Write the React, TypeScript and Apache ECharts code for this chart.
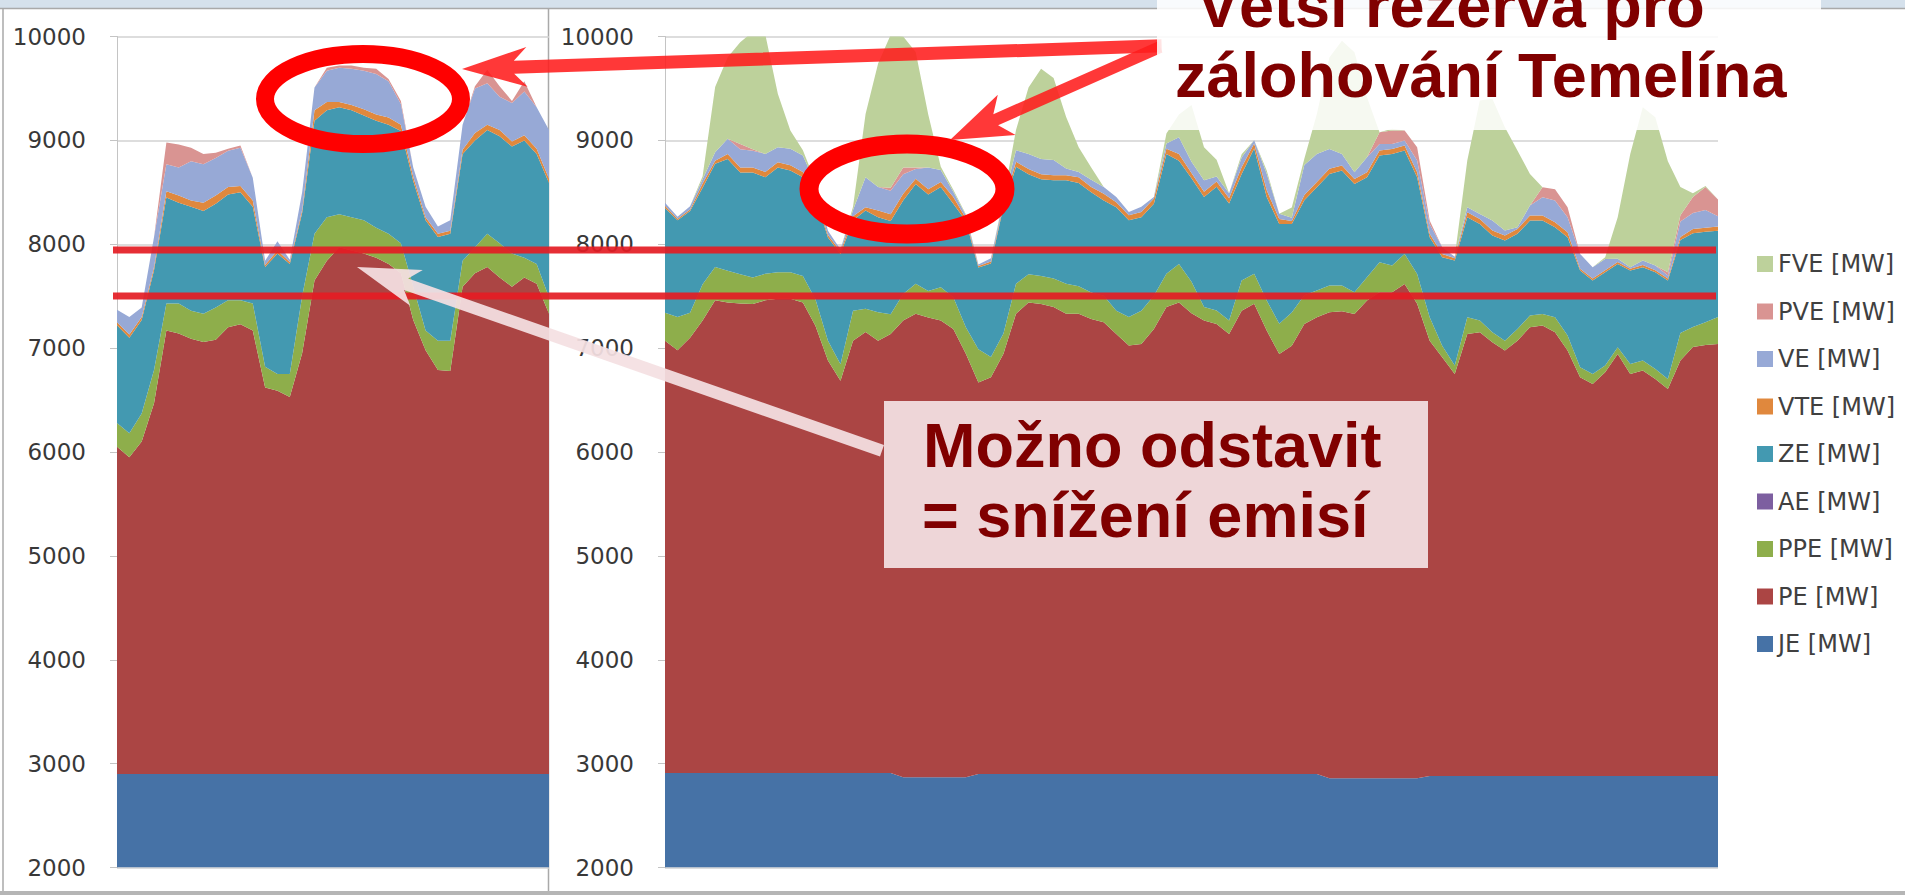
import React, { useEffect, useRef } from "react";
import * as echarts from "echarts";

// ---------- names, colours, ticks ----------
const STACK_ORDER = ["JE [MW]", "PE [MW]", "PPE [MW]", "AE [MW]", "ZE [MW]", "VTE [MW]", "VE [MW]", "PVE [MW]", "FVE [MW]"];
const LEGEND_ORDER = ["FVE [MW]", "PVE [MW]", "VE [MW]", "VTE [MW]", "ZE [MW]", "AE [MW]", "PPE [MW]", "PE [MW]", "JE [MW]"];
const COLORS: Record<string, string> = {
  "JE [MW]": "#4672A6",
  "PE [MW]": "#AB4544",
  "PPE [MW]": "#8EAE4B",
  "AE [MW]": "#7D5FA0",
  "ZE [MW]": "#4399B1",
  "VTE [MW]": "#E0883D",
  "VE [MW]": "#97A9D6",
  "PVE [MW]": "#D99492",
  "FVE [MW]": "#BDD19B",
};
const Y_MIN = 2000;
const Y_MAX = 10000;
const Y_STEP = 1000;

// ---------- left chart (2-hour steps, ~3 days) ----------
const LEFT_STEPS = Array.from({ length: 36 }, (_, i) => `${i * 2} h`);
const JE_L = [2900, 2900, 2900, 2900, 2900, 2900, 2900, 2900, 2900, 2900, 2900, 2900, 2900, 2900, 2900, 2900, 2900, 2900, 2900, 2900, 2900, 2900, 2900, 2900, 2900, 2900, 2900, 2900, 2900, 2900, 2900, 2900, 2900, 2900, 2900, 2900];
const PE_L = [3150, 3050, 3200, 3570, 4270, 4240, 4190, 4160, 4180, 4300, 4330, 4270, 3720, 3690, 3630, 4050, 4750, 4940, 5070, 5040, 5010, 4970, 4910, 4820, 4370, 4080, 3890, 3880, 4690, 4820, 4880, 4780, 4690, 4780, 4720, 4430];
const PPE_L = [230, 230, 270, 320, 260, 290, 270, 270, 310, 260, 230, 260, 200, 160, 220, 550, 450, 420, 320, 320, 320, 290, 290, 290, 320, 190, 280, 290, 250, 250, 320, 330, 320, 190, 190, 160];
const AE_L = [0, 0, 0, 0, 0, 0, 0, 0, 0, 0, 0, 0, 0, 0, 0, 0, 0, 0, 0, 0, 0, 0, 0, 0, 0, 0, 0, 0, 0, 0, 0, 0, 0, 0, 0, 0];
const ZE_L = [940, 920, 900, 960, 1020, 970, 1000, 990, 1000, 1020, 1040, 930, 960, 1160, 1060, 800, 1090, 1030, 1030, 1030, 1010, 1030, 1050, 1080, 1020, 1060, 1000, 1030, 1030, 1030, 1000, 1030, 1030, 1130, 1060, 1100];
const VTE_L = [30, 30, 30, 30, 60, 70, 60, 80, 80, 70, 60, 60, 20, 30, 20, 30, 100, 80, 50, 50, 60, 60, 70, 60, 40, 30, 30, 30, 40, 70, 50, 60, 50, 50, 50, 40];
const VE_L = [120, 170, 90, 290, 260, 270, 380, 370, 360, 350, 370, 220, 40, 90, 20, 170, 220, 300, 330, 350, 370, 390, 350, 200, 90, 100, 70, 100, 240, 430, 400, 320, 370, 420, 400, 470];
const PVE_L = [0, 0, 0, 0, 210, 220, 130, 100, 50, 20, 20, 0, 0, 0, 0, 0, 0, 30, 20, 30, 30, 50, 20, 30, 0, 0, 0, 0, 0, 20, 130, 100, 20, 100, 0, 0];
const FVE_L = [0, 0, 0, 0, 0, 0, 0, 0, 0, 0, 0, 0, 0, 0, 0, 0, 0, 0, 0, 0, 0, 0, 0, 0, 0, 0, 0, 0, 0, 0, 0, 0, 0, 0, 0, 0];

// ---------- right chart (2-hour steps, one week) ----------
const RIGHT_STEPS = Array.from({ length: 85 }, (_, i) => `${i * 2} h`);
const JE_R = [
  2910, 2910, 2910, 2910, 2910, 2910, 2910, 2910, 2910, 2910, 2910, 2910, 2910, 2910, 2910, 2910, 2910, 2910, 2910,
  2870, 2870, 2870, 2870, 2870, 2870,
  2900, 2900, 2900, 2900, 2900, 2900, 2900, 2900, 2900, 2900, 2900, 2900, 2900, 2900, 2900, 2900, 2900, 2900, 2900, 2900, 2900, 2900, 2900, 2900, 2900, 2900, 2900, 2900,
  2860, 2860, 2860, 2860, 2860, 2860, 2860, 2860,
  2880, 2880, 2880, 2880, 2880, 2880, 2880, 2880, 2880, 2880, 2880, 2880, 2880, 2880, 2880, 2880, 2880, 2880, 2880, 2880, 2880, 2880, 2880, 2880,
];
const PE_R = [
  4160, 4070, 4190, 4355, 4550, 4530, 4520, 4515, 4550, 4565,
  4565, 4530, 4305, 3970, 3775, 4160, 4245, 4160, 4225, 4395,
  4460, 4425, 4395, 4315, 4075, 3770, 3820, 4045, 4430, 4540,
  4525, 4495, 4430, 4430, 4380, 4350, 4235, 4125, 4140, 4285,
  4495, 4540, 4435, 4365, 4333, 4237, 4461, 4526, 4269, 4044,
  4124, 4333, 4397, 4485, 4495, 4469, 4598, 4678, 4678, 4758,
  4566, 4192, 4032, 3871, 4257, 4273, 4176, 4096, 4192, 4321,
  4337, 4273, 4096, 3839, 3775, 3887, 4064, 3871, 3904, 3823,
  3727, 4000, 4130, 4150, 4160,
];
const PPE_R = [
  270, 320, 240, 350, 320, 305, 280, 255, 255, 255,
  255, 255, 255, 190, 160, 290, 225, 275, 190, 255,
  290, 255, 320, 305, 255, 320, 195, 195, 290, 270,
  270, 275, 290, 265, 255, 255, 225, 275, 320, 320,
  320, 370, 305, 130, 130, 130, 290, 290, 290, 290,
  320, 275, 257, 257, 247, 209, 224, 289, 257, 289,
  288, 225, 112, 81, 160, 112, 97, 96, 113, 112,
  112, 144, 145, 97, 96, 65, 64, 97, 96, 97,
  96, 265, 193, 220, 260,
];
const AE_R = [
  0, 0, 0, 0, 0, 0, 0, 0, 0, 0, 0, 0, 0, 0, 0, 0, 0, 0, 0, 0, 0, 0, 0, 0, 0, 0, 0, 0, 0, 0, 0, 0, 0, 0, 0, 0, 0, 0, 0, 0, 0, 0, 0,
  0, 0, 0, 0, 0, 0, 0, 0, 0, 0, 0, 0, 0, 0, 0, 0, 0, 0, 0, 0, 0, 0, 0, 0, 0, 0, 0, 0, 0, 0, 0, 0, 0, 0, 0, 0, 0, 0, 0, 0, 0, 0,
];
const ZE_R = [
  1010, 930, 980, 930, 995, 1075, 980, 1010, 930, 1010,
  980, 950, 980, 995, 1060, 870, 945, 915, 900, 900,
  960, 930, 965, 900, 1025, 785, 900, 1220, 1125, 965,
  930, 945, 995, 995, 965, 915, 995, 930, 900, 885,
  1155, 995, 995, 1060, 1190, 1125, 1025, 1205, 995, 960,
  850, 915, 995, 1075, 1108, 1043, 963, 1027, 1075, 995,
  931, 771, 851, 1011, 963, 931, 931, 963, 915, 915,
  899, 867, 947, 931, 899, 898, 803, 899, 899, 930,
  947, 895, 903, 870, 830,
];
const VTE_R = [
  20, 15, 15, 40, 30, 50, 50, 50, 50, 50,
  50, 50, 30, 25, 25, 40, 30, 65, 65, 65,
  50, 50, 50, 65, 25, 15, 20, 25, 50, 50,
  50, 50, 50, 55, 50, 65, 50, 50, 50, 50,
  50, 65, 50, 50, 50, 50, 65, 50, 65, 50,
  30, 50, 50, 50, 48, 48, 48, 48, 48, 48,
  48, 32, 32, 22, 48, 48, 48, 49, 48, 48,
  48, 48, 48, 18, 20, 20, 19, 18, 21, 20,
  20, 30, 40, 40, 40,
];
const VE_R = [
  30, 20, 30, 40, 80, 145, 175, 160, 175, 145,
  160, 160, 100, 40, 20, 60, 290, 225, 225, 190,
  95, 210, 115, 50, 30, 15, 30, 40, 110, 145,
  145, 145, 65, 50, 70, 65, 50, 30, 50, 15,
  50, 160, 110, 110, 50, 50, 95, 30, 160, 50,
  30, 290, 270, 190, 112, 64, 145, 64, 48, 48,
  113, 96, 64, 15, 48, 48, 96, 48, 16, 96,
  177, 209, 144, 142, 109, 109, 30, 14, 43, 45,
  30, 150, 154, 170, 100,
];
const PVE_R = [
  0, 0, 0, 0, 0, 0, 50, 15, 0, 0,
  0, 0, 0, 0, 0, 0, 0, 0, 30, 65,
  15, 0, 0, 0, 0, 0, 0, 0, 0, 0,
  0, 0, 0, 0, 0, 0, 0, 0, 0, 0,
  0, 0, 0, 0, 0, 0, 0, 0, 0, 0,
  0, 0, 0, 0, 0, 0, 0, 113, 129, 97,
  128, 32, 0, 0, 0, 0, 0, 0, 0, 0,
  96, 109, 96, 0, 0, 0, 0, 0, 0, 0,
  30, 60, 155, 220, 160,
];
const FVE_R = [
  0, 0, 0, 30, 630, 785, 980, 1130, 1150, 515,
  175, 50, 20, 0, 0, 30, 610, 1190, 1470, 1260,
  1110, 510, 30, 20, 10, 0, 0, 20, 195, 640,
  870, 790, 495, 240, 120, 0, 0, 0, 0, 0,
  95, 220, 545, 320, 160, 0, 30, 0, 30, 0,
  100, 60, 385, 880, 1090, 1156, 578, 0, 16, 0,
  0, 0, 0, 0, 450, 1092, 1172, 995, 738, 305,
  0, 0, 0, 0, 0, 16, 400, 1091, 1477, 1428,
  1070, 270, 35, 10, 0,
];

const LEFT_DATA = [JE_L, PE_L, PPE_L, AE_L, ZE_L, VTE_L, VE_L, PVE_L, FVE_L];
const RIGHT_DATA = [JE_R, PE_R, PPE_R, AE_R, ZE_R, VTE_R, VE_R, PVE_R, FVE_R];

const TITLE_LINES = ["Větší rezerva pro", "zálohování Temelína"];
const NOTE_LINES = ["Možno odstavit", "= snížení emisí"];

function buildOption(): any {
  const mkSeries = (name: string, data: number[], idx: number, stack: string) => ({
    name,
    type: "line",
    data,
    xAxisIndex: idx,
    yAxisIndex: idx,
    stack,
    symbol: "none",
    showSymbol: false,
    smooth: false,
    clip: true,
    silent: true,
    lineStyle: { width: 0, color: COLORS[name] },
    itemStyle: { color: COLORS[name] },
    areaStyle: { color: COLORS[name], opacity: 1 },
    emphasis: { disabled: true },
    z: 2,
  });

  const series: any[] = [];
  STACK_ORDER.forEach((n, k) => series.push(mkSeries(n, LEFT_DATA[k], 0, "left")));
  STACK_ORDER.forEach((n, k) => series.push(mkSeries(n, RIGHT_DATA[k], 1, "right")));

  const yAxis = (gridIndex: number) => ({
    type: "value",
    gridIndex,
    min: Y_MIN,
    max: Y_MAX,
    interval: Y_STEP,
    axisLine: { show: true, lineStyle: { color: "#C4C4C4", width: 1 } },
    axisTick: { show: true, length: 7, lineStyle: { color: "#C4C4C4" } },
    splitLine: { show: true, lineStyle: { color: "#D2D2D2", width: 1.5 } },
    axisLabel: {
      color: "#383838",
      fontFamily: "DejaVu Sans",
      fontSize: 23,
      margin: 31,
      formatter: (v: number) => String(v),
    },
  });
  const xAxis = (gridIndex: number, data: string[]) => ({
    type: "category",
    gridIndex,
    data,
    boundaryGap: false,
    axisLine: { show: false },
    axisTick: { show: false },
    axisLabel: { show: false },
    splitLine: { show: false },
  });

  const red = "rgba(255,28,28,0.88)";
  const pinkArrow = "rgba(244,224,226,0.93)";
  const bigFont = 'bold 63px "Liberation Sans", Arial, sans-serif';

  const graphics: any[] = [
    // slide frame
    { type: "rect", z: 0, shape: { x: 0, y: 0, width: 1905, height: 8 }, style: { fill: "#D5E1EC" } },
    { type: "line", z: 0, shape: { x1: 0, y1: 8.5, x2: 1905, y2: 8.5 }, style: { stroke: "#A9A9A9", lineWidth: 1.5 } },
    { type: "line", z: 0, shape: { x1: 3, y1: 8, x2: 3, y2: 891 }, style: { stroke: "#A9A9A9", lineWidth: 1.5 } },
    { type: "line", z: 0, shape: { x1: 548.5, y1: 8, x2: 548.5, y2: 891 }, style: { stroke: "#A9A9A9", lineWidth: 1.5 } },
    { type: "rect", z: 0, shape: { x: 0, y: 891, width: 1905, height: 4 }, style: { fill: "#B5B5B5" } },

    // red horizontal lines
    { type: "rect", z: 100, shape: { x: 113, y: 246.5, width: 1603, height: 7 }, style: { fill: "rgba(228,28,36,0.92)" } },
    { type: "rect", z: 100, shape: { x: 113, y: 292.5, width: 1603, height: 7 }, style: { fill: "rgba(228,28,36,0.92)" } },

    // ellipses
    { type: "ellipse", z: 101, shape: { cx: 363, cy: 99, rx: 98, ry: 45 }, style: { fill: "none", stroke: "#FF0000", lineWidth: 18 } },
    { type: "ellipse", z: 101, shape: { cx: 907, cy: 189, rx: 98, ry: 45 }, style: { fill: "none", stroke: "#FF0000", lineWidth: 19 } },

    // red arrow to the left ellipse
    {
      type: "polygon", z: 102,
      shape: { points: [[462, 69], [526.3, 46.9], [513.8, 60.8], [1161.4, 39.3], [1161.8, 52.3], [514.2, 73.8], [527.6, 86.8]] },
      style: { fill: red },
    },
    // red arrow to the right ellipse
    {
      type: "polygon", z: 102,
      shape: { points: [[950, 140], [997.8, 94.8], [993.3, 114.3], [1157.6, 41.5], [1162.4, 52.5], [998.1, 125.3], [1015.6, 135]] },
      style: { fill: red },
    },
    // light arrow to the coal peak
    {
      type: "polygon", z: 102,
      shape: { points: [[357, 267], [422.8, 269.9], [408.1, 278.5], [884, 445], [880, 456.5], [404.1, 289.9], [410.2, 305.7]] },
      style: { fill: pinkArrow },
    },

    // title box
    { type: "rect", z: 110, shape: { x: 1157, y: 0, width: 664, height: 130 }, style: { fill: "rgba(255,255,255,0.86)" } },
    {
      type: "text", z: 111, x: 1197, y: 5,
      style: { text: TITLE_LINES[0], font: bigFont, fill: "#800000", textAlign: "left", textVerticalAlign: "middle" },
    },
    {
      type: "text", z: 111, x: 1175, y: 75,
      style: { text: TITLE_LINES[1], font: bigFont, fill: "#800000", textAlign: "left", textVerticalAlign: "middle" },
    },

    // note box
    { type: "rect", z: 110, shape: { x: 884, y: 401, width: 544, height: 167 }, style: { fill: "rgba(240,219,221,0.97)" } },
    {
      type: "text", z: 111, x: 923, y: 445,
      style: { text: NOTE_LINES[0], font: bigFont, fill: "#800000", textAlign: "left", textVerticalAlign: "middle" },
    },
    {
      type: "text", z: 111, x: 922, y: 515,
      style: { text: NOTE_LINES[1], font: bigFont, fill: "#800000", textAlign: "left", textVerticalAlign: "middle" },
    },
  ];

  return {
    animation: false,
    backgroundColor: "#FFFFFF",
    grid: [
      { left: 117, top: 36.5, width: 432, height: 831, containLabel: false },
      { left: 665, top: 36.5, width: 1053, height: 831, containLabel: false },
    ],
    xAxis: [xAxis(0, LEFT_STEPS), xAxis(1, RIGHT_STEPS)],
    yAxis: [yAxis(0), yAxis(1)],
    legend: {
      orient: "vertical",
      left: 1752,
      top: 246,
      itemWidth: 16,
      itemHeight: 16,
      itemGap: 21.5,
      icon: "rect",
      selectedMode: false,
      data: LEGEND_ORDER,
      textStyle: { fontFamily: "DejaVu Sans", fontSize: 24, lineHeight: 26, color: "#404040" },
    },
    tooltip: { show: false },
    series,
    graphic: { elements: graphics },
  };
}

export default function App() {
  const ref = useRef<HTMLDivElement | null>(null);
  useEffect(() => {
    document.body.style.margin = "0";
    document.body.style.overflow = "hidden";
    if (!ref.current) return;
    const chart = echarts.init(ref.current, undefined, { renderer: "svg" });
    chart.setOption(buildOption());
    return () => chart.dispose();
  }, []);
  return (
    <div
      ref={ref}
      style={{ position: "absolute", left: 0, top: 0, width: 1905, height: 895, background: "#FFFFFF" }}
    />
  );
}
